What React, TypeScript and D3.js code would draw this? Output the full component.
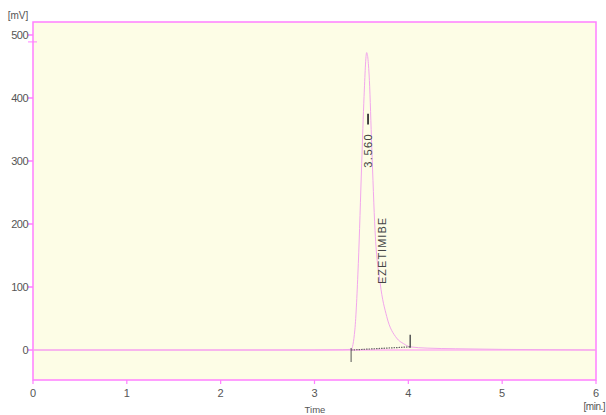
import React, { useEffect, useRef } from 'react';
import * as d3 from 'd3';

// chromatogram trace (time in min, signal in mV)
const times = [0, 1, 2, 3, 3.3, 3.39, 3.43, 3.467, 3.503, 3.528, 3.556, 3.585, 3.61, 3.645, 3.7, 3.77, 3.875, 3.95, 4.02, 4.2, 4.5, 5, 5.5, 6];
const signal = [0, 0, 0, 0, 0.5, 1, 32, 137, 296, 402, 472, 428, 323, 190, 106, 53, 19, 10, 5, 3, 2, 1, 0.5, 0];

const xTicks = [0, 1, 2, 3, 4, 5, 6];
const yTicks = [0, 100, 200, 300, 400, 500];

// integration marks
const peakStart = { t: 3.39, v: 0 };
const peakEnd = { t: 4.02, v: 5 };
const peakApex = 3.56;
const peakRT = '3.560';
const peakName = 'EZETIMIBE';

const W = 606;
const H = 415;
const M = { left: 33, right: 10, top: 22, bottom: 35 };

const App: React.FC = () => {
    const ref = useRef<SVGSVGElement>(null);

    useEffect(() => {
        const svg = d3.select(ref.current);
        svg.selectAll('*').remove();

        const pink = '#ff7fff';
        const font = 'Arial, "Liberation Sans", sans-serif';

        const x = d3.scaleLinear().domain([0, 6]).range([M.left, W - M.right]);
        const y = d3.scaleLinear().domain([-47.6, 520.6]).range([H - M.bottom, M.top]);

        svg.append('rect')
            .attr('x', M.left).attr('y', M.top)
            .attr('width', x(6) - M.left).attr('height', y(-47.6) - M.top)
            .attr('fill', '#fdfde6')
            .attr('stroke', pink).attr('stroke-width', 1.5);

        // zero line
        svg.append('line')
            .attr('x1', M.left).attr('x2', x(6))
            .attr('y1', y(0)).attr('y2', y(0))
            .attr('stroke', '#ff8cf5').attr('stroke-width', 1);

        const pts = times.map((t, i) => [t, signal[i]] as [number, number]);
        const line = d3.line<[number, number]>()
            .x(d => x(d[0])).y(d => y(d[1]))
            .curve(d3.curveMonotoneX);
        svg.append('path')
            .attr('d', line(pts))
            .attr('fill', 'none')
            .attr('stroke', '#f2a6ec')
            .attr('stroke-width', 1);

        // baseline + markers
        svg.append('line')
            .attr('x1', x(peakStart.t)).attr('y1', y(peakStart.v))
            .attr('x2', x(peakEnd.t)).attr('y2', y(peakEnd.v))
            .attr('stroke', '#666').attr('stroke-width', 1.2)
            .attr('stroke-dasharray', '1.5,1');
        svg.append('line')
            .attr('x1', x(peakStart.t)).attr('x2', x(peakStart.t))
            .attr('y1', y(peakStart.v) - 2).attr('y2', y(peakStart.v) + 12)
            .attr('stroke', '#555').attr('stroke-width', 1);
        svg.append('line')
            .attr('x1', x(peakEnd.t)).attr('x2', x(peakEnd.t))
            .attr('y1', y(peakEnd.v) - 12).attr('y2', y(peakEnd.v) + 1)
            .attr('stroke', '#555').attr('stroke-width', 1.5);

        // peak mark and labels
        svg.append('line')
            .attr('x1', x(peakApex) + 1).attr('x2', x(peakApex) + 1)
            .attr('y1', y(375)).attr('y2', y(358))
            .attr('stroke', '#333').attr('stroke-width', 1.8);
        svg.append('text')
            .attr('transform', `translate(${x(peakApex) + 1.5},${y(317)}) rotate(-90)`)
            .attr('text-anchor', 'middle').attr('dy', '0.35em')
            .attr('font-family', font).attr('font-size', 11).attr('fill', '#444')
            .style('letter-spacing', '1.5px')
            .text(peakRT);
        svg.append('text')
            .attr('transform', `translate(${x(3.72)},${y(158)}) rotate(-90)`)
            .attr('text-anchor', 'middle').attr('dy', '0.35em')
            .attr('font-family', font).attr('font-size', 11).attr('fill', '#444')
            .style('letter-spacing', '1px')
            .text(peakName);

        // y axis ticks
        const yg = svg.append('g');
        yTicks.forEach(v => {
            yg.append('line')
                .attr('x1', M.left - 5).attr('x2', M.left)
                .attr('y1', y(v)).attr('y2', y(v))
                .attr('stroke', pink).attr('stroke-width', 1.5);
            yg.append('text')
                .attr('x', M.left - 5).attr('y', y(v)).attr('dy', '0.35em')
                .attr('text-anchor', 'end')
                .attr('font-family', font).attr('font-size', 11).attr('fill', '#555')
                .style('letter-spacing', '-0.5px')
                .text(v);
        });
        yg.append('line')
            .attr('x1', M.left - 5).attr('x2', M.left + 4)
            .attr('y1', y(489)).attr('y2', y(489))
            .attr('stroke', pink).attr('stroke-width', 1);
        svg.append('text')
            .attr('x', 18).attr('y', 19).attr('text-anchor', 'middle')
            .attr('font-family', font).attr('font-size', 10).attr('fill', '#555')
            .text('[mV]');

        // x axis ticks
        const xg = svg.append('g');
        xTicks.forEach(t => {
            xg.append('line')
                .attr('x1', x(t)).attr('x2', x(t))
                .attr('y1', H - M.bottom).attr('y2', H - M.bottom + 4)
                .attr('stroke', pink).attr('stroke-width', 1.2);
            xg.append('text')
                .attr('x', x(t)).attr('y', H - M.bottom + 13).attr('dy', '0.35em')
                .attr('text-anchor', 'middle')
                .attr('font-family', font).attr('font-size', 11).attr('fill', '#555')
                .text(t);
        });
        svg.append('text')
            .attr('x', 605).attr('y', 410).attr('text-anchor', 'end')
            .attr('font-family', font).attr('font-size', 10).attr('fill', '#555')
            .style('letter-spacing', '-0.5px')
            .text('[min.]');
        svg.append('text')
            .attr('x', 315).attr('y', 413).attr('text-anchor', 'middle')
            .attr('font-family', font).attr('font-size', 9.5).attr('fill', '#555')
            .text('Time');
    }, []);

    return (
        <svg ref={ref} width={W} height={H}
            style={{ position: 'absolute', left: 0, top: 0, background: '#fff' }} />
    );
};

export default App;
